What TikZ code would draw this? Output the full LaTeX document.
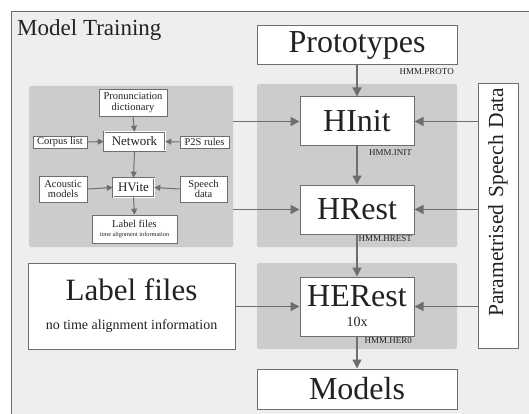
\documentclass[tikz,border=0pt]{standalone}
\usepackage{fontspec}
\setmainfont{Liberation Serif}
\usetikzlibrary{arrows.meta,positioning}
\definecolor{framebg}{HTML}{EEEEEE}
\definecolor{panelbg}{HTML}{CCCCCC}
\definecolor{lineclr}{HTML}{6E6E6E}
\definecolor{txt}{HTML}{222222}
\newcommand{\fs}[1]{\fontsize{#1}{#1}\selectfont}
\tikzset{
  bigbox/.style={draw=lineclr, fill=white, line width=1pt, inner sep=0pt, text=txt, font=\fs{32}},
  smallbox/.style={draw=lineclr, fill=white, line width=0.7pt, inner sep=0pt, text=txt, font=\fs{10.5}, align=center},
  dblbox/.style={draw=lineclr, double=white, double distance=1pt, fill=white, line width=0.6pt, inner sep=0pt, text=txt, font=\fs{13}},
  panel/.style={fill=panelbg, draw=none, rounded corners=2pt, inner sep=0pt},
  hmm/.style={font=\fs{9}, text=txt, inner sep=0pt, anchor=east},
  bigarrow/.style={draw=lineclr, line width=1.4pt, -{Triangle[length=9pt,width=9pt]}},
  smallarrow/.style={draw=lineclr, line width=1pt, -{Triangle[length=6pt,width=6pt]}},
}
\begin{document}
\begin{tikzpicture}[x=1pt,y=-1pt]
\useasboundingbox (0,0) rectangle (529,414);
\clip (0,0) rectangle (529,414);
\fill[white] (0,0) rectangle (529,414);
\draw[fill=framebg, draw=lineclr, line width=1pt] (11,12) rectangle (560,440);
\node[anchor=base west, font=\fs{23}, text=txt, inner sep=0pt] (title) at (17,36) {Model Training};

% panels
\node[panel, minimum width=200pt, minimum height=163pt] (p1) at (357,165.5) {};
\node[panel, minimum width=200pt, minimum height=86pt] (p2) at (357,306) {};
\node[panel, minimum width=204pt, minimum height=161pt] (lp) at (131,166.5) {};

% main column
\node[bigbox, minimum width=200pt, minimum height=39pt] (proto) at (357,45.5) {Prototypes};
\node[bigbox, minimum width=114pt, minimum height=49pt] (hinit) at (357,121.5) {HInit};
\node[bigbox, minimum width=114pt, minimum height=49pt] (hrest) at (357,209.5) {HRest};
\node[bigbox, minimum width=114pt, minimum height=59pt, align=center] (herest) at (357,306.5) {HERest\\[-12pt]{\fs{14}10x}};
\node[bigbox, minimum width=200pt, minimum height=40pt] (models) at (357,389) {Models};
\node[bigbox, minimum width=264pt, minimum height=40pt, rotate=90, font=\fs{21.5}, text width=257pt, align=right] (param) at (498,216) {Parametrised Speech Data};
\node[bigbox, minimum width=207pt, minimum height=86pt, align=center, font=\fs{31}] (lfbig) at (131.5,306) {Label files\\[-2pt]{\fs{14}no time alignment information}};

% hmm labels
\node[hmm] (lproto) at (454,72) {HMM.PROTO};
\node[hmm] (linit) at (412,153) {HMM.INIT};
\node[hmm] (lhrest) at (412,239) {HMM.HREST};
\node[hmm] (lher) at (412,341) {HMM.HER0};

% left panel content
\node[smallbox, minimum width=68pt, minimum height=27pt] (pron) at (133,102.5) {Pronunciation\\dictionary};
\node[dblbox, minimum width=61pt, minimum height=19pt] (net) at (134.5,141.5) {Network};
\node[smallbox, minimum width=54pt, minimum height=12pt] (corpus) at (60,142) {Corpus list};
\node[smallbox, minimum width=49pt, minimum height=12pt] (p2s) at (204.5,142) {P2S rules};
\node[dblbox, minimum width=41pt, minimum height=19pt] (hvite) at (133.5,187.5) {HVite};
\node[smallbox, minimum width=48pt, minimum height=26pt] (acoustic) at (63,189) {Acoustic\\models};
\node[smallbox, minimum width=47pt, minimum height=26pt] (speech) at (203.5,189) {Speech\\data};
\node[smallbox, minimum width=85pt, minimum height=28pt] (lfsmall) at (134.5,229) {Label files\\[-1pt]{\fs{6.3}time alignment information}};

% arrows main
\draw[bigarrow] (proto.south) -- (hinit.north);
\draw[bigarrow] (hinit.south) -- (hrest.north);
\draw[bigarrow] (hrest.south) -- (herest.north);
\draw[bigarrow] (herest.south) -- (models.north);
\draw[bigarrow] (lp.east |- hinit.west) -- (hinit.west);
\draw[bigarrow] (lp.east |- hrest.west) -- (hrest.west);
\draw[bigarrow] (lfbig.east |- herest.west) -- (herest.west);
\draw[bigarrow] (param.north |- hinit.east) -- (hinit.east);
\draw[bigarrow] (param.north |- hrest.east) -- (hrest.east);
\draw[bigarrow] (param.north |- herest.east) -- (herest.east);

% arrows left
\draw[smallarrow] (pron.south) -- (net.north);
\draw[smallarrow] (corpus.east) -- (net.west);
\draw[smallarrow] (p2s.west) -- (net.east);
\draw[smallarrow] (net.south) -- (hvite.north);
\draw[smallarrow] (acoustic.east) -- (hvite.west);
\draw[smallarrow] (speech.west) -- (hvite.east);
\draw[smallarrow] (hvite.south) -- (lfsmall.north);
\end{tikzpicture}
\end{document}
